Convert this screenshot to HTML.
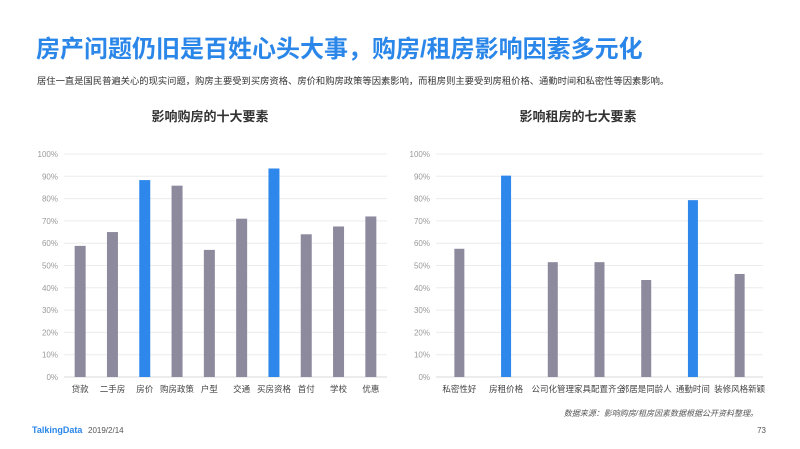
<!DOCTYPE html>
<html><head><meta charset="utf-8"><style>
body{margin:0;width:800px;height:449px;background:#fff;overflow:hidden;font-family:"Liberation Sans","Noto Sans CJK SC",sans-serif;}
svg{display:block}
</style></head><body>
<svg id="s" width="800" height="449" font-family="Liberation Sans, Noto Sans CJK SC, sans-serif">
<text x="36" y="57" font-size="24" font-weight="bold" fill="#2a86e8">房产问题仍旧是百姓心头大事，购房/租房影响因素多元化</text>
<text x="37" y="84" font-size="9.3" fill="#333">居住一直是国民普遍关心的现实问题，购房主要受到买房资格、房价和购房政策等因素影响，而租房则主要受到房租价格、通勤时间和私密性等因素影响。</text>
<text x="210" y="121" font-size="13" font-weight="bold" fill="#333" text-anchor="middle">影响购房的十大要素</text>
<text x="578" y="121" font-size="13" font-weight="bold" fill="#333" text-anchor="middle">影响租房的七大要素</text>
<g id="c1"></g>
<g id="c2"></g>
<text x="758" y="416" font-size="8" font-style="italic" fill="#555" text-anchor="end">数据来源：影响购房/租房因素数据根据公开资料整理。</text>
<text x="32" y="433" font-size="9" font-weight="bold" fill="#2a86e8">TalkingData</text>
<text x="88" y="433" font-size="8" fill="#555">2019/2/14</text>
<text x="766" y="433" font-size="8" fill="#555" text-anchor="end">73</text>
</svg>
<script>
const buyCats=["贷款","二手房","房价","购房政策","户型","交通","买房资格","首付","学校","优惠"];
const buyVals=[58.8,65,88.3,85.8,57,71,93.5,64,67.5,72];
const buyHighlight=[0,0,1,0,0,0,1,0,0,0];
const rentCats=["私密性好","房租价格","公司化管理","家具配置齐全","邻居是同龄人","通勤时间","装修风格新颖"];
const rentVals=[57.5,90.3,51.5,51.5,43.5,79.3,46.2];
const rentHighlight=[0,1,0,0,0,1,0];
const tickLabels=["0%","10%","20%","30%","40%","50%","60%","70%","80%","90%","100%"];
const NS="http://www.w3.org/2000/svg";
function mk(g,tag,attrs){const e=document.createElementNS(NS,tag);for(const k in attrs)e.setAttribute(k,attrs[k]);g.appendChild(e);return e;}
function chart(id,cats,vals,hl,x0,x1,bw){
  const g=document.getElementById(id);const yTop=154,yBot=377;
  const y=v=>yBot-(v/100)*(yBot-yTop);
  const band=(x1-x0)/cats.length;const xc=i=>x0+band*(i+0.5);
  tickLabels.forEach((t,i)=>{
    const v=i*10;
    const l=mk(g,'line',{x1:x0,x2:x1,y1:y(v),y2:y(v),stroke:v===0?'#d9d9d9':'#ececec','stroke-width':1});
    
    
    const tx=mk(g,'text',{x:x0-6,y:y(v)+3,'font-size':8,fill:'#999','text-anchor':'end'});tx.textContent=t;
    
    
  });
  cats.forEach((c,i)=>{
    const r=mk(g,'rect',{x:xc(i)-bw/2,y:y(vals[i]),width:bw,height:yBot-y(vals[i]),fill:hl[i]?'#2e88ec':'#8e8a9e'});
    
    
    const tx=mk(g,'text',{x:xc(i),y:yBot+15,'font-size':8.5,fill:'#444','text-anchor':'middle'});tx.textContent=c;
    
    
  });
}
chart('c1',buyCats,buyVals,buyHighlight,64,387,11);
chart('c2',rentCats,rentVals,rentHighlight,436,763,10);
</script>
</body></html>
